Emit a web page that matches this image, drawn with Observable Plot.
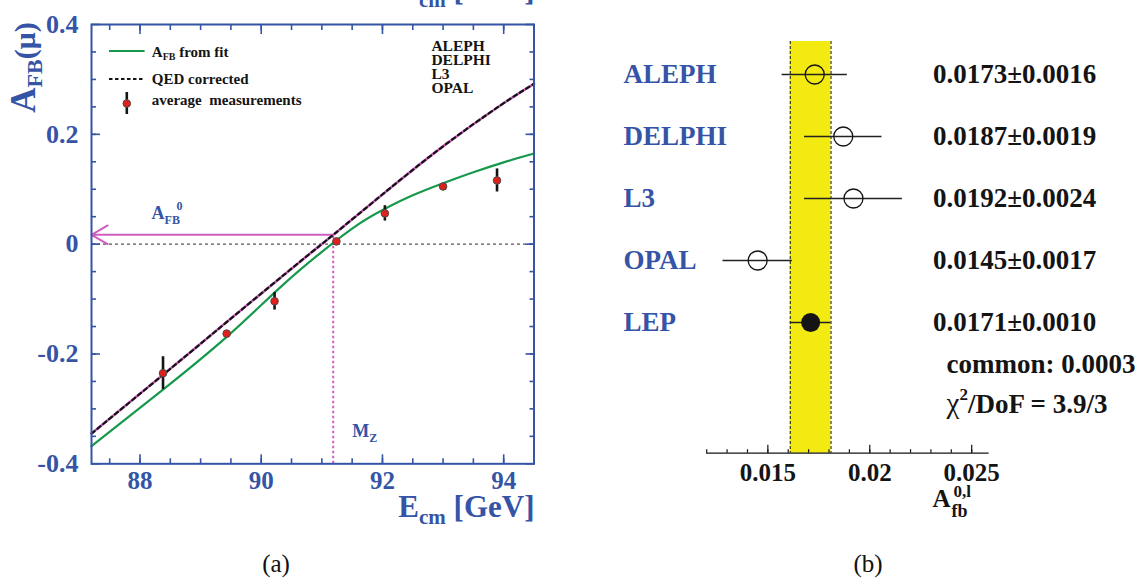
<!DOCTYPE html>
<html>
<head>
<meta charset="utf-8">
<script src="https://cdn.jsdelivr.net/npm/d3@7"></script>
<script src="https://cdn.jsdelivr.net/npm/@observablehq/plot@0.6"></script>
<style>
  html, body { margin: 0; padding: 0; background: #fff; }
  body { width: 1146px; height: 587px; overflow: hidden; position: relative; font-family: "Liberation Serif", serif; }
  #panelA { position: absolute; left: 0; top: 0; width: 560px; }
  #panelB { position: absolute; left: 600px; top: 0; width: 546px; }
  .cap { position: absolute; top: 551px; font-family: "Liberation Serif", serif; font-size: 25px; line-height: 25px; color: #111; transform: translateX(-50%); white-space: nowrap; }
</style>
</head>
<body>
<div id="panelA"></div>
<div id="panelB"></div>
<div class="cap" style="left:276px">(a)</div>
<div class="cap" style="left:868px">(b)</div>
<script>
// ---------------- data: panel (a) ----------------
const energy   = [88.38, 89.43, 90.22, 91.24, 92.04, 93.00, 93.89];      // GeV
const afbMeas  = [-0.235, -0.163, -0.104, 0.005, 0.056, 0.105, 0.116];
const afbErr   = [0.030, 0.006, 0.016, 0.005, 0.014, 0.005, 0.021];
const fitE     = [87.2, 88.38, 89.44, 90.3, 91.0, 91.6, 92.05, 92.5, 93.0, 93.5, 94.0, 94.5];
const fitAfb   = [-0.368, -0.265, -0.168, -0.080, -0.014, 0.036, 0.065, 0.089, 0.111, 0.131, 0.149, 0.165];
const qedE     = [87.2, 88.38, 89.44, 90.65, 91.2, 92.05, 93.01, 93.95, 94.5];
const qedAfb   = [-0.345, -0.238, -0.141, -0.031, 0.018, 0.095, 0.179, 0.253, 0.292];
const mZ = 91.1876, afb0 = 0.0171;
const xDomainA = [87.2, 94.5], yDomainA = [-0.4, 0.4];
const xTicksA = [88, 90, 92, 94];
const yTicksA = [-0.4, -0.2, 0, 0.2, 0.4];
const xMinorA = d3.range(87.5, 94.51, 0.5);
const yMinorA = d3.range(-0.35, 0.351, 0.05);
const legendLabels = ["from fit", "QED corrected", "average  measurements"];
const expList = ["ALEPH", "DELPHI", "L3", "OPAL"];

// ---------------- data: panel (b) ----------------
const experiments = ["ALEPH", "DELPHI", "L3", "OPAL", "LEP"];
const afbl        = [0.0173, 0.0187, 0.0192, 0.0145, 0.0171];
const afblErr     = [0.0016, 0.0019, 0.0024, 0.0017, 0.0010];
const commonErr   = "0.0003";
const chi2Text    = "3.9/3";
const xDomainB = [0.012, 0.0258];
const xTicksB = [0.015, 0.02, 0.025];
const xMinorB = d3.range(0.012, 0.02551, 0.001);

// ---------------- styles ----------------
const BLUE = "#3554a6", GREEN = "#17994b", MAG = "#cf5ec0", RED = "#e0201c", YEL = "#f2ea10", INK = "#141414";
const SERIF = "Liberation Serif";

function rich(parent, x, y, parts, attrs = {}) {
  const t = parent.append("text").attr("x", x).attr("y", y)
    .attr("font-family", SERIF).attr("font-weight", "bold").attr("text-anchor", "start");
  for (const [k, v] of Object.entries(attrs)) t.attr(k, v);
  for (const p of parts) {
    const s = t.append("tspan").text(p.t);
    if (p.size) s.attr("font-size", p.size);
    if (p.dy) s.attr("dy", p.dy);
    if (p.dx) s.attr("dx", p.dx);
    if (p.weight) s.attr("font-weight", p.weight);
  }
  return t;
}

// inward ticks: draw the outward tick, shifted back inside by its own length
function inTicks(axis, ticks, anchor, len, color, width) {
  const shift = {bottom: {dy: -len}, top: {dy: len}, left: {dx: len}, right: {dx: -len}}[anchor];
  return axis(ticks, {anchor, tickSize: len, ...shift, color, strokeWidth: width, label: null, tickFormat: () => ""});
}

// ================= panel (a) =================
const meas = energy.map((e, i) => ({e, a: afbMeas[i], err: afbErr[i]}));
const fit = fitE.map((e, i) => ({e, a: fitAfb[i]}));
const qed = qedE.map((e, i) => ({e, a: qedAfb[i]}));

const plotA = Plot.plot({
  width: 560, height: 540,
  marginLeft: 91, marginRight: 26.5, marginTop: 24, marginBottom: 76.7,
  style: {fontFamily: SERIF, background: "transparent"},
  x: {domain: xDomainA},
  y: {domain: yDomainA},
  marks: [
    Plot.ruleY([0], {stroke: "#555", strokeWidth: 1.2, strokeDasharray: "3,3"}),
    Plot.ruleX([mZ], {y1: yDomainA[0], y2: afb0, stroke: MAG, strokeWidth: 2, strokeDasharray: "2.5,2.5"}),
    Plot.arrow([{x1: mZ, x2: xDomainA[0], y: afb0}], {x1: "x1", x2: "x2", y1: "y", y2: "y", stroke: MAG, strokeWidth: 2, headLength: 14, headAngle: 60}),
    Plot.line(qed, {x: "e", y: "a", curve: "natural", stroke: MAG, strokeWidth: 2.6}),
    Plot.line(qed, {x: "e", y: "a", curve: "natural", stroke: INK, strokeWidth: 2.2, strokeDasharray: "4,3.5"}),
    Plot.line(fit, {x: "e", y: "a", curve: "natural", stroke: GREEN, strokeWidth: 2.2}),
    Plot.ruleX(meas, {x: "e", y1: d => d.a - d.err, y2: d => d.a + d.err, stroke: INK, strokeWidth: 2.6}),
    Plot.dot(meas, {x: "e", y: "a", r: 3.8, fill: RED, stroke: "#4a4a4a", strokeWidth: 1}),
    Plot.frame({stroke: BLUE, strokeWidth: 2}),
    inTicks(Plot.axisX, xMinorA, "bottom", 5, BLUE, 1.6),
    inTicks(Plot.axisX, xMinorA, "top", 5, BLUE, 1.6),
    inTicks(Plot.axisX, xTicksA, "bottom", 9, BLUE, 1.6),
    inTicks(Plot.axisX, xTicksA, "top", 9, BLUE, 1.6),
    inTicks(Plot.axisY, yMinorA, "left", 5, BLUE, 1.6),
    inTicks(Plot.axisY, yMinorA, "right", 5, BLUE, 1.6),
    inTicks(Plot.axisY, yTicksA, "left", 9, BLUE, 1.6),
    inTicks(Plot.axisY, yTicksA, "right", 9, BLUE, 1.6),
    Plot.axisX(xTicksA, {anchor: "bottom", tickSize: 0, tickPadding: 7, color: BLUE, label: null,
      fontFamily: SERIF, fontSize: 25, fontWeight: "bold", tickFormat: d => String(d)}),
    Plot.axisY(yTicksA, {anchor: "left", tickSize: 0, tickPadding: 13, color: BLUE, label: null,
      fontFamily: SERIF, fontSize: 26, fontWeight: "bold", tickFormat: d => String(d)})
  ]
});
document.getElementById("panelA").appendChild(plotA);
{
  const svg = d3.select(plotA);
  const sx = plotA.scale("x"), sy = plotA.scale("y");
  const g = svg.append("g");
  // y-axis title
  rich(g.append("g").attr("transform", "translate(35,67.5) rotate(-90)"), 0, 0, [
    {t: "A", size: 35}, {t: "FB", size: 22, dy: 7}, {t: "(μ)", size: 30, dy: -7}
  ], {fill: BLUE, "text-anchor": "middle"});
  // x-axis title (and its clipped copy at the top edge)
  const xTitle = [{t: "E", size: 31}, {t: "cm", size: 21, dy: 7}, {t: " [GeV]", size: 31, dy: -7}];
  rich(g, sx.range[1] + 1, 516.7, xTitle, {fill: BLUE, "text-anchor": "end"});
  rich(g, sx.range[1] + 1, 0, xTitle, {fill: BLUE, "text-anchor": "end"});
  // A_FB^0 annotation
  const ax = sx.apply(88.2), ay = sy.apply(afb0);
  rich(g, ax, ay - 15.5, [{t: "A", size: 18}, {t: "FB", size: 12, dy: 5}], {fill: BLUE});
  rich(g, ax + 25, ay - 24, [{t: "0", size: 12}], {fill: BLUE});
  // M_Z annotation
  const mx = sx.apply(mZ) + 19.5, my = sy.range[0] - 26;
  rich(g, mx, my, [{t: "M", size: 18}, {t: "Z", size: 12, dy: 5}], {fill: BLUE});
  // legend
  const lx = sx.range[0] + 18, ly = sy.range[1];
  g.append("line").attr("x1", lx).attr("x2", lx + 35.6).attr("y1", ly + 27).attr("y2", ly + 27)
    .attr("stroke", GREEN).attr("stroke-width", 2.2);
  g.append("line").attr("x1", lx).attr("x2", lx + 35).attr("y1", ly + 55).attr("y2", ly + 55)
    .attr("stroke", INK).attr("stroke-width", 2.2).attr("stroke-dasharray", "3.5,2.5");
  g.append("line").attr("x1", lx + 17.8).attr("x2", lx + 17.8).attr("y1", ly + 68).attr("y2", ly + 90)
    .attr("stroke", INK).attr("stroke-width", 2.6);
  g.append("circle").attr("cx", lx + 17.8).attr("cy", ly + 79.5).attr("r", 3.8)
    .attr("fill", RED).attr("stroke", "#4a4a4a");
  const tx = lx + 42.8;
  rich(g, tx, ly + 33, [{t: "A", size: 15}, {t: "FB", size: 10, dy: 3}, {t: " " + legendLabels[0], size: 15, dy: -3}], {fill: INK});
  rich(g, tx, ly + 60, [{t: legendLabels[1], size: 15}], {fill: INK});
  rich(g, tx, ly + 81, [{t: legendLabels[2], size: 15}], {fill: INK});
  // experiment list
  expList.forEach((name, i) => {
    rich(g, 431.4, ly + 26.7 + i * 14, [{t: name, size: 15.5}], {fill: INK});
  });
}

// ================= panel (b) =================
const rows = experiments.map((name, i) => ({name, v: afbl[i], err: afblErr[i]}));
const lep = rows.find(d => d.name === "LEP");
const fmt4 = d3.format(".4f");
const plotB = Plot.plot({
  width: 546, height: 540,
  marginLeft: 106.2, marginRight: 158.5, marginTop: 41, marginBottom: 87.3,
  style: {fontFamily: SERIF, background: "transparent"},
  x: {domain: xDomainB},
  y: {type: "point", domain: experiments, range: [73.7, 321.7], padding: 0, axis: null},
  marks: [
    Plot.rect([lep], {x1: d => d.v - d.err, x2: d => d.v + d.err, fill: YEL}),
    Plot.ruleX([lep.v - lep.err, lep.v + lep.err], {stroke: INK, strokeWidth: 1, strokeDasharray: "3,2"}),
    Plot.ruleY(rows, {y: "name", x1: d => d.v - d.err, x2: d => d.v + d.err, stroke: "#222", strokeWidth: 1.6}),
    Plot.dot(rows.filter(d => d.name !== "LEP"), {x: "v", y: "name", r: 9.5, stroke: INK, strokeWidth: 1.3, fill: "none"}),
    Plot.dot([lep], {x: "v", y: "name", r: 9.5, fill: INK}),
    Plot.text(rows, {y: "name", text: "name", frameAnchor: "left", dx: -83.2, textAnchor: "start",
      fill: BLUE, fontSize: 27, fontWeight: "bold", fontFamily: SERIF}),
    Plot.text(rows, {y: "name", text: d => fmt4(d.v) + "±" + fmt4(d.err), frameAnchor: "right", dx: -55,
      textAnchor: "start", fill: INK, fontSize: 27, fontWeight: "bold", fontFamily: SERIF}),
    Plot.frame({anchor: "bottom", stroke: INK, strokeWidth: 1.3}),
    inTicks(Plot.axisX, xMinorB, "bottom", 3.5, INK, 1.2),
    inTicks(Plot.axisX, xTicksB, "bottom", 8, INK, 1.2),
    Plot.axisX(xTicksB, {anchor: "bottom", tickSize: 0, tickPadding: 10, color: INK, label: null,
      fontFamily: SERIF, fontSize: 25, fontWeight: "bold", tickFormat: d => String(d)})
  ]
});
document.getElementById("panelB").appendChild(plotB);
{
  const svg = d3.select(plotB);
  const sx = plotB.scale("x"), sy = plotB.scale("y");
  const g = svg.append("g");
  const colX = sx.range[1] - 55;
  const yl = sy.apply("LEP");
  rich(g, colX + 14, yl + 51, [{t: "common: " + commonErr, size: 27}], {fill: INK});
  const t = rich(g, colX + 14, yl + 91, [], {fill: INK});
  t.append("tspan").text("χ").attr("font-size", 29).attr("font-weight", "normal");
  t.append("tspan").text("2").attr("font-size", 17).attr("dy", -13);
  t.append("tspan").text("/DoF = " + chi2Text).attr("font-size", 27).attr("dy", 13);
  // axis title A_fb^{0,l}, placed under the tick labels
  const axisY = 540 - 87.3;
  rich(g, colX, axisY + 54, [{t: "A", size: 25}], {fill: INK});
  rich(g, colX + 19, axisY + 64.5, [{t: "fb", size: 18}], {fill: INK});
  rich(g, colX + 21, axisY + 44, [{t: "0,l", size: 17}], {fill: INK});
}
</script>
</body>
</html>
